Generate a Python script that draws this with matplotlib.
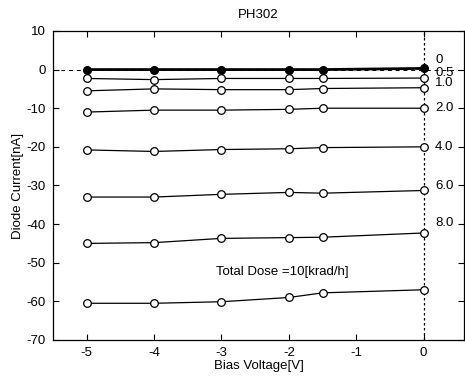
import matplotlib
matplotlib.use("Agg")
import matplotlib.pyplot as plt

plt.rcParams["font.family"] = ["Liberation Sans", "DejaVu Sans"]
plt.rcParams["axes.unicode_minus"] = False

bias = [-5, -4, -3, -2, -1.5, 0]
dose_labels = ["0", "0.5", "1.0", "2.0", "4.0", "6.0", "8.0"]
current = {
    "0": [0.0, 0.0, 0.0, 0.0, 0.0, 0.3],
    "0.5": [-2.3, -2.6, -2.3, -2.3, -2.3, -2.2],
    "1.0": [-5.5, -5.0, -5.2, -5.2, -4.9, -4.7],
    "2.0": [-11.0, -10.5, -10.5, -10.3, -10.0, -10.0],
    "4.0": [-20.8, -21.2, -20.7, -20.5, -20.2, -20.0],
    "6.0": [-33.0, -33.0, -32.3, -31.8, -32.0, -31.3],
    "8.0": [-45.0, -44.8, -43.7, -43.5, -43.4, -42.3],
    "10": [-60.5, -60.5, -60.1, -59.0, -57.8, -57.0],
}
label_y = {"0": 2.4, "0.5": -0.9, "1.0": -3.6, "2.0": -10.0, "4.0": -20.0,
           "6.0": -30.2, "8.0": -39.8}

fig = plt.figure(figsize=(4.65, 3.82), dpi=100)
ax = fig.add_axes([0.114, 0.110, 0.884, 0.809])

ax.axhline(0, color="black", lw=0.7, ls=(0, (4, 4)))
ax.axvline(0, color="black", lw=0.9, ls=(0, (2, 2)))

for name, ys in current.items():
    if name == "0":
        ax.plot(bias, ys, "-o", color="black", lw=2.0, ms=5.5,
                mfc="black", mec="black")
    else:
        ax.plot(bias, ys, "-o", color="black", lw=0.9, ms=5.5,
                mfc="white", mec="black", mew=0.9)

for name in dose_labels:
    ax.text(0.17, label_y[name], name, fontsize=9.5, va="center", ha="left")

ax.text(-2.1, -52.5, "Total Dose =10[krad/h]", fontsize=9.5, ha="center",
        va="center")

ax.set_xlim(-5.5, 0.6)
ax.set_ylim(-70, 10)
ax.set_xticks([-5, -4, -3, -2, -1, 0])
ax.set_yticks(range(-70, 11, 10))
ax.tick_params(direction="in", top=True, right=True, labelsize=9.5,
               length=4, width=0.8, pad=5)
ax.set_xlabel("Bias Voltage[V]", fontsize=9.5, labelpad=1)
ax.set_ylabel("Diode Current[nA]", fontsize=9.5, labelpad=2)
ax.set_title("PH302", fontsize=9.5, pad=9)
for s in ax.spines.values():
    s.set_linewidth(0.9)

fig.savefig("out.png", dpi=100)
